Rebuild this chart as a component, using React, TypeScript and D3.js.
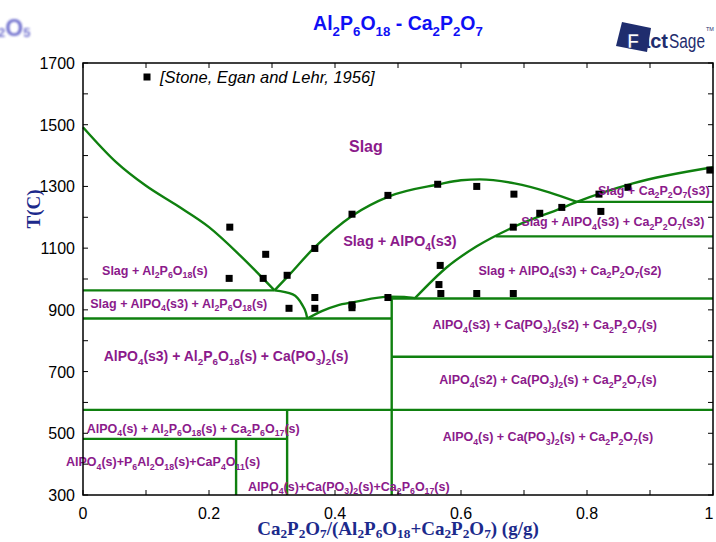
import * as d3 from 'd3';

const WIDTH = 716;
const HEIGHT = 542;
const PLOT = {left: 83, right: 713, top: 63, bottom: 495};

const GREEN = '#0f800f';
const PURPLE = '#8b1a8b';
const NAVY = '#1c2a8c';

const T_TICKS = [300, 500, 700, 900, 1100, 1300, 1500, 1700];
const X_TICKS = [0, 0.2, 0.4, 0.6, 0.8, 1];
const X_TICK_LABELS = ['0', '0.2', '0.4', '0.6', '0.8', '1'];

// phase boundaries: [mass fraction Ca2P2O7, T(C)]
const leftLiquidus: [number, number][] = [
  [0, 1492], [0.053, 1378], [0.1, 1302], [0.15, 1237], [0.2, 1168],
  [0.25, 1075], [0.304, 963],
];
const alpo4Liquidus: [number, number][] = [
  [0.304, 963], [0.324, 1006], [0.366, 1099], [0.428, 1206], [0.486, 1268],
  [0.565, 1307], [0.6, 1320], [0.63, 1323], [0.685, 1310], [0.74, 1281], [0.784, 1250],
];
const eutecticBend: [number, number][] = [
  [0.304, 963], [0.333, 950], [0.348, 916], [0.354, 890], [0.356, 872],
];
const humpCurve: [number, number][] = [
  [0.356, 872], [0.38, 897], [0.403, 914], [0.43, 925], [0.487, 943], [0.51, 942], [0.527, 938],
];
const rightLiquidus: [number, number][] = [
  [0.527, 938], [0.578, 1039], [0.625, 1106], [0.683, 1168], [0.76, 1230],
  [0.784, 1250], [0.873, 1310], [1, 1362],
];
// [x1, x2, T]
const isotherms: [number, number, number][] = [
  [0, 0.304, 963], [0, 0.49, 872], [0.49, 1, 937], [0.784, 1, 1250], [0.655, 1, 1138],
  [0.49, 1, 748], [0, 1, 576], [0, 0.324, 482],
];
// [x, T1, T2]
const isopleths: [number, number, number][] = [
  [0.49, 943, 300], [0.324, 576, 300], [0.243, 482, 300],
];

// Stone, Egan and Lehr (1956)
const expPoints: [number, number][] = [
  [0.233, 1168], [0.232, 1002], [0.286, 1002], [0.29, 1080], [0.324, 1012], [0.327, 905],
  [0.368, 1099], [0.368, 940], [0.368, 905], [0.427, 916], [0.427, 907], [0.484, 940],
  [0.427, 1210], [0.484, 1271], [0.563, 1307], [0.625, 1300], [0.684, 1275],
  [0.567, 1044], [0.565, 982], [0.568, 953], [0.625, 953], [0.683, 953], [0.683, 1168],
  [0.725, 1213], [0.76, 1232], [0.819, 1275], [0.822, 1219], [0.865, 1297], [0.995, 1353],
];

// "_n" marks a subscript
const regionLabels: {text: string; x: number; t: number}[] = [
  {text: 'Slag', x: 0.449, t: 1431},
  {text: 'Slag + AlPO_4(s3)', x: 0.503, t: 1123},
  {text: 'Slag + Al_2P_6O_18(s)', x: 0.114, t: 1029},
  {text: 'Slag + AlPO_4(s3) + Al_2P_6O_18(s)', x: 0.152, t: 922},
  {text: 'AlPO_4(s3) + Al_2P_6O_18(s) + Ca(PO_3)_2(s)', x: 0.227, t: 750},
  {text: 'Slag + Ca_2P_2O_7(s3)', x: 0.906, t: 1288},
  {text: 'Slag + AlPO_4(s3) + Ca_2P_2O_7(s3)', x: 0.841, t: 1185},
  {text: 'Slag + AlPO_4(s3) + Ca_2P_2O_7(s2)', x: 0.773, t: 1029},
  {text: 'AlPO_4(s3) + Ca(PO_3)_2(s2) + Ca_2P_2O_7(s)', x: 0.733, t: 851},
  {text: 'AlPO_4(s2) + Ca(PO_3)_2(s) + Ca_2P_2O_7(s)', x: 0.738, t: 673},
  {text: 'AlPO_4(s) + Ca(PO_3)_2(s) + Ca_2P_2O_7(s)', x: 0.738, t: 488},
  {text: 'AlPO_4(s) + Al_2P_6O_18(s) + Ca_2P_6O_17(s)', x: 0.175, t: 517},
  {text: 'AlPO_4(s)+P_6Al_2O_18(s)+CaP_4O_11(s)', x: 0.127, t: 407},
  {text: 'AlPO_4(s)+Ca(PO_3)_2(s)+Ca_2P_6O_17(s)', x: 0.422, t: 329},
];
const LABEL_SIZE: Record<string, number> = {
  'Slag': 16,
  'Slag + AlPO_4(s3)': 14.5,
  'AlPO_4(s3) + Al_2P_6O_18(s) + Ca(PO_3)_2(s)': 14,
};

function Formula({text, size, sub = 0.7, drop = 0.3}: {text: string; size: number; sub?: number; drop?: number}) {
  const parts = text.split(/(_\d+)/).filter(Boolean);
  let down = false;
  const shift = size * drop;
  return (
    <>
      {parts.map((p, i) => {
        if (p.startsWith('_')) {
          const dy = down ? 0 : shift;
          down = true;
          return <tspan key={i} dy={dy} fontSize={size * sub}>{p.slice(1)}</tspan>;
        }
        const dy = down ? -shift : 0;
        down = false;
        return <tspan key={i} dy={dy}>{p}</tspan>;
      })}
    </>
  );
}

export default function App() {
  const x = d3.scaleLinear().domain([0, 1]).range([PLOT.left, PLOT.right]);
  const y = d3.scaleLinear().domain([300, 1700]).range([PLOT.bottom, PLOT.top]);
  const line = d3.line<[number, number]>()
    .x((d) => x(d[0]))
    .y((d) => y(d[1]))
    .curve(d3.curveMonotoneX);

  const curves = [leftLiquidus, alpo4Liquidus, eutecticBend, humpCurve, rightLiquidus];
  const minorT = d3.range(300, 1701, 100);
  const minorX = d3.range(0, 1.0001, 0.1);

  return (
    <svg width={WIDTH} height={HEIGHT} style={{position: 'absolute', left: 0, top: 0, background: '#fff'}}
      fontFamily="'Liberation Sans', Arial, sans-serif">
      <defs>
        <filter id="blur"><feGaussianBlur stdDeviation="0.9" /></filter>
      </defs>
      {/* cropped logo fragment at top left */}
      <text x={-2} y={36} fontSize={23} fontWeight="bold" fill="#4848c0" opacity={0.75} filter="url(#blur)">
        <tspan fontSize={13} dy={1}>2</tspan><tspan dy={-1}>O</tspan><tspan fontSize={13} dy={1}>5</tspan>
      </text>

      <text x={398} y={30} textAnchor="middle" fontSize={19.5} fontWeight="bold" fill="#0f0ff5">
        <Formula text="Al_2P_6O_18 - Ca_2P_2O_7" size={19.5} sub={0.68} />
      </text>

      {/* FactSage logo */}
      <g fill="#1f2d6e">
        <polygon points="622,22 651,28 647,52 616,46" />
        <text x={627} y={48} fontSize={21} fontWeight="bold" textLength={41} lengthAdjust="spacingAndGlyphs">
          <tspan fill="#fff" stroke="#1f2d6e" strokeWidth={0.7}>F</tspan>act
        </text>
        <text x={669} y={48} fontSize={20} textLength={36} lengthAdjust="spacingAndGlyphs">Sage</text>
        <text x={706} y={31} fontSize={5.5}>TM</text>
      </g>

      {/* phase boundaries */}
      <g stroke={GREEN} strokeWidth={2.4} fill="none">
        {curves.map((c, i) => <path key={i} d={line(c)!} />)}
        {isotherms.map(([x1, x2, t], i) => (
          <line key={`h${i}`} x1={x(x1)} x2={x(x2)} y1={y(t)} y2={y(t)} />
        ))}
        {isopleths.map(([xx, t1, t2], i) => (
          <line key={`v${i}`} x1={x(xx)} x2={x(xx)} y1={y(t1)} y2={y(t2)} />
        ))}
      </g>

      {/* experimental points */}
      <g fill="#000">
        {expPoints.map(([cx, t], i) => (
          <rect key={i} x={x(cx) - 3.5} y={y(t) - 3.5} width={7} height={7} />
        ))}
      </g>

      {/* region labels */}
      <g fill={PURPLE} fontWeight="bold" textAnchor="middle">
        {regionLabels.map((l, i) => {
          const size = LABEL_SIZE[l.text] ?? 12.5;
          return (
            <text key={i} x={x(l.x)} y={y(l.t) + size * 0.36} fontSize={size}>
              <Formula text={l.text} size={size} />
            </text>
          );
        })}
      </g>

      {/* legend */}
      <rect x={143.5} y={73.5} width={7} height={7} fill="#000" />
      <text x={160} y={83} fontSize={16.5} fontStyle="italic" fill="#000">[Stone, Egan and Lehr, 1956]</text>

      {/* frame and ticks */}
      <rect x={PLOT.left} y={PLOT.top} width={PLOT.right - PLOT.left} height={PLOT.bottom - PLOT.top}
        fill="none" stroke="#000" strokeWidth={1.5} />
      <g stroke="#000" strokeWidth={1}>
        {minorT.map((t) => (
          <g key={t}>
            <line x1={PLOT.left} x2={PLOT.left + 5} y1={y(t)} y2={y(t)} />
            <line x1={PLOT.right} x2={PLOT.right - 5} y1={y(t)} y2={y(t)} />
          </g>
        ))}
        {minorX.map((v) => (
          <g key={v}>
            <line x1={x(v)} x2={x(v)} y1={PLOT.bottom} y2={PLOT.bottom - 5} />
            <line x1={x(v)} x2={x(v)} y1={PLOT.top} y2={PLOT.top + 5} />
          </g>
        ))}
      </g>
      <g fontSize={16} fill="#000">
        {T_TICKS.map((t) => (
          <text key={t} x={PLOT.left - 8} y={y(t) + 6} textAnchor="end">{t}</text>
        ))}
        {X_TICKS.map((v, i) => (
          <text key={v} x={Math.min(x(v), 709)} y={519} textAnchor="middle">{X_TICK_LABELS[i]}</text>
        ))}
      </g>

      {/* axis titles */}
      <text x={398} y={535} textAnchor="middle" fontSize={19} fontWeight="bold" fill={NAVY}
        fontFamily="'Liberation Serif', 'Times New Roman', serif">
        <Formula text="Ca_2P_2O_7/(Al_2P_6O_18+Ca_2P_2O_7) (g/g)" size={19} drop={0.18} />
      </text>
      <text transform="translate(40,209) rotate(-90)" textAnchor="middle" fontSize={19} fontWeight="bold"
        fill={NAVY} fontFamily="'Liberation Serif', 'Times New Roman', serif">T(C)</text>
    </svg>
  );
}
